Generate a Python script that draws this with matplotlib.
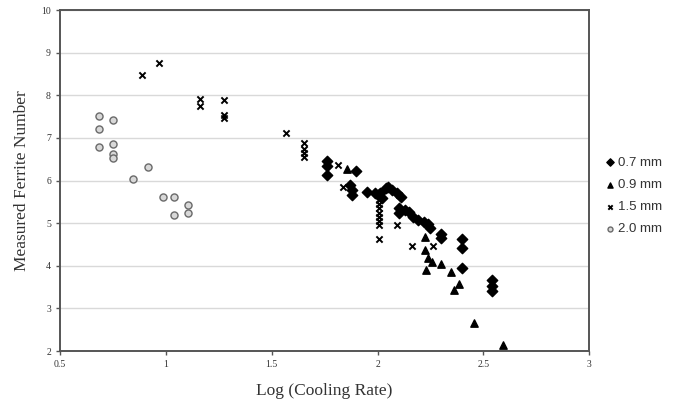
import matplotlib
matplotlib.use("Agg")
import matplotlib.pyplot as plt

# 0.7 mm (diamonds)
d07_x = [1.76, 1.76, 1.76, 1.90, 1.87, 1.88, 1.88, 1.95, 1.99, 2.00, 2.01, 2.02,
         2.04, 2.05, 2.07, 2.09, 2.11, 2.10, 2.10, 2.13, 2.15, 2.17, 2.19, 2.22,
         2.24, 2.25, 2.30, 2.30, 2.40, 2.40, 2.40, 2.54, 2.54, 2.54]
d07_y = [6.46, 6.34, 6.13, 6.23, 5.90, 5.77, 5.67, 5.73, 5.72, 5.66, 5.70, 5.60,
         5.82, 5.85, 5.77, 5.72, 5.62, 5.35, 5.23, 5.30, 5.27, 5.15, 5.07, 5.03,
         4.98, 4.88, 4.75, 4.66, 4.62, 4.41, 3.95, 3.67, 3.52, 3.42]

# 0.9 mm (triangles)
d09_x = [1.855, 2.225, 2.225, 2.24, 2.257, 2.23, 2.30, 2.345, 2.385, 2.36, 2.456, 2.592]
d09_y = [6.28, 4.67, 4.38, 4.19, 4.09, 3.91, 4.05, 3.86, 3.58, 3.43, 2.66, 2.15]

# 1.5 mm (crosses)
d15_x = [0.886, 0.969, 1.163, 1.163, 1.275, 1.275, 1.275, 1.567, 1.655, 1.655, 1.655,
         1.655, 1.815, 1.835, 2.005, 2.005, 2.005, 2.005, 2.005, 2.005, 2.005, 2.005,
         2.09, 2.165, 2.262]
d15_y = [8.48, 8.75, 7.91, 7.75, 7.90, 7.55, 7.47, 7.11, 6.87, 6.75, 6.65,
         6.55, 6.37, 5.84, 5.55, 5.45, 5.35, 5.25, 5.15, 5.05, 4.95, 4.62,
         4.95, 4.47, 4.47]

# 2.0 mm (circles)
d20_x = [0.686, 0.686, 0.686, 0.752, 0.752, 0.752, 0.752, 0.914, 0.845, 0.987,
         1.04, 1.04, 1.105, 1.105]
d20_y = [7.52, 7.22, 6.78, 7.41, 6.86, 6.62, 6.52, 6.32, 6.04, 5.62,
         5.61, 5.20, 5.42, 5.23]

labels = ["0.7 mm", "0.9 mm", "1.5 mm", "2.0 mm"]
x_ticks = [0.5, 1, 1.5, 2, 2.5, 3]
x_ticklabels = ["0.5", "1", "1.5", "2", "2.5", "3"]
y_ticks = [2, 3, 4, 5, 6, 7, 8, 9, 10]

serif = ["Liberation Serif", "DejaVu Serif"]
sans = ["Liberation Sans", "DejaVu Sans"]

fig = plt.figure(figsize=(6.78, 4.05), dpi=100)
ax = fig.add_axes([0.0885, 0.1333, 0.7805, 0.8417])

ax.scatter(d07_x, d07_y, marker="D", s=28, color="black", zorder=3, label=labels[0])
ax.scatter(d09_x, d09_y, marker="^", s=28, color="black", zorder=3, label=labels[1])
ax.scatter(d15_x, d15_y, marker="x", s=20, color="black", linewidths=1.4, zorder=3, label=labels[2])
ax.scatter(d20_x, d20_y, marker="o", s=26, facecolor="#d8d8d8", edgecolor="#6a6a6a",
           linewidths=1.0, zorder=3, label=labels[3])

ax.set_xlim(0.5, 3)
ax.set_ylim(2, 10)
ax.set_xticks(x_ticks)
ax.set_xticklabels(x_ticklabels)
ax.set_yticks(y_ticks)
ax.yaxis.grid(True, color="#d9d9d9", linewidth=1.0)
ax.set_axisbelow(True)

for sp in ax.spines.values():
    sp.set_color("#555555")
    sp.set_linewidth(1.4)

ax.tick_params(direction="out", length=3, width=1, colors="#555555", labelsize=7,
               labelcolor="#333333")
for lab in ax.get_xticklabels() + ax.get_yticklabels():
    lab.set_family(serif)

ax.set_xlabel("Log (Cooling Rate)", family=serif, fontsize=12.5, color="#333333", labelpad=10)
ax.set_ylabel("Measured Ferrite Number", family=serif, fontsize=12.5, color="#333333", labelpad=8)

handles, labs = ax.get_legend_handles_labels()
leg = fig.legend(handles, labs, loc="center left", bbox_to_anchor=(0.874, 0.516),
                 frameon=False, prop={"family": sans, "size": 9.5}, labelspacing=0.75,
                 handletextpad=0.1, handlelength=0.9, markerscale=0.7)
for t in leg.get_texts():
    t.set_color("#333333")

fig.savefig("out.png", dpi=100)
